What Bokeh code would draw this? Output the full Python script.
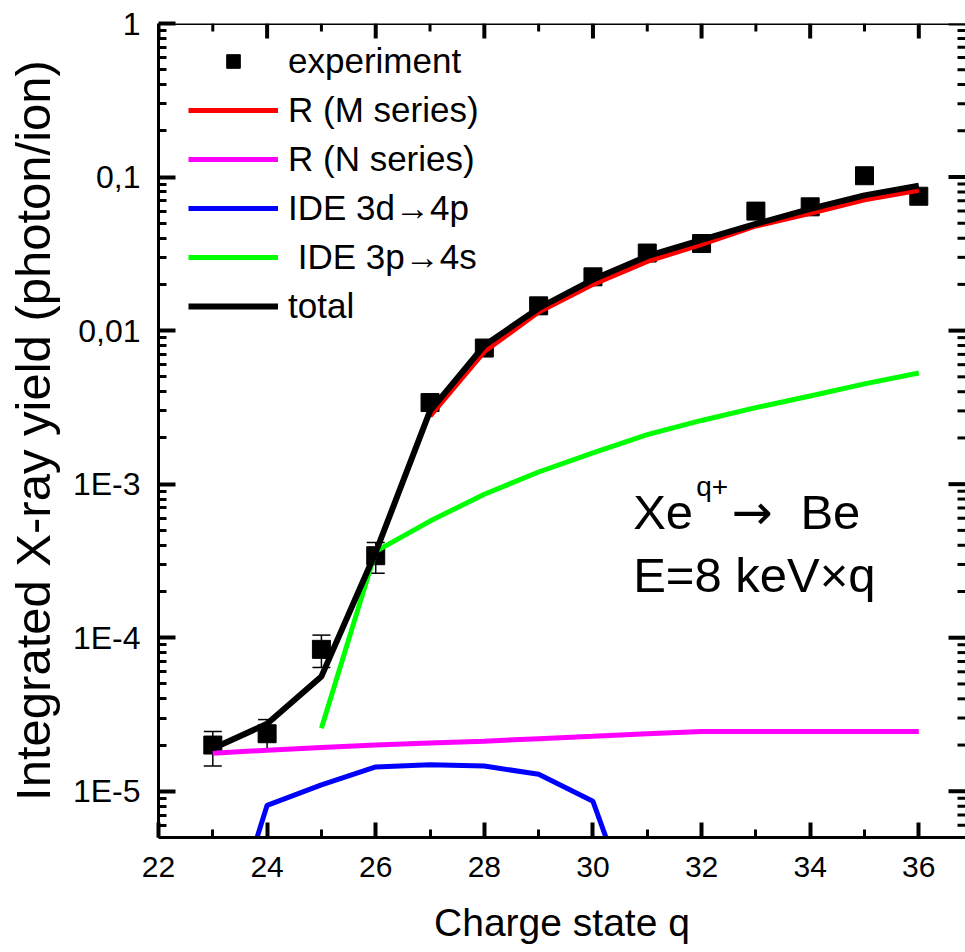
import math
from bokeh.plotting import figure
from bokeh.models import (Range1d, ColumnDataSource, Whisker, TeeHead, Legend, LegendItem,
                          FixedTicker, CustomJSTickFormatter, Label, Span)
from bokeh.embed import file_html
from bokeh.resources import INLINE

# ---------------- data ----------------
q_exp = [23, 24, 25, 26, 27, 28, 29, 30, 31, 32, 33, 34, 35, 36]
y_exp = [2.0e-5, 2.37e-5, 8.4e-5, 3.42e-4, 3.4e-3, 7.7e-3, 1.45e-2, 2.24e-2,
         3.2e-2, 3.69e-2, 6.0e-2, 6.4e-2, 0.102, 0.075]

q_err = [23, 24, 25, 26]
err_lo = [1.46e-5, 1.85e-5, 6.4e-5, 2.63e-4]
err_hi = [2.45e-5, 2.93e-5, 1.04e-4, 4.17e-4]

q_m = [27, 28, 29, 30, 31, 32, 33, 34, 35, 36]
y_m = [2.77e-3, 7.3e-3, 1.32e-2, 2.0e-2, 2.82e-2, 3.65e-2, 4.8e-2, 5.8e-2, 7.1e-2, 8.2e-2]

q_n = [23, 24, 25, 26, 27, 28, 29, 30, 31, 32, 33, 34, 35, 36]
y_n = [1.77e-5, 1.85e-5, 1.93e-5, 2.0e-5, 2.06e-5, 2.12e-5, 2.2e-5, 2.28e-5,
       2.37e-5, 2.45e-5, 2.45e-5, 2.45e-5, 2.45e-5, 2.45e-5]

q_3d = [23, 24, 25, 26, 27, 28, 29, 30, 31]
y_3d = [6e-7, 8.1e-6, 1.1e-5, 1.44e-5, 1.49e-5, 1.46e-5, 1.29e-5, 8.6e-6, 9e-7]

q_3p = [25, 26, 27, 28, 29, 30, 31, 32, 33, 34, 35, 36]
y_3p = [2.57e-5, 3.65e-4, 5.75e-4, 8.6e-4, 1.2e-3, 1.6e-3, 2.1e-3, 2.6e-3,
        3.15e-3, 3.75e-3, 4.5e-3, 5.3e-3]

q_tot = [23, 24, 25, 26, 27, 28, 29, 30, 31, 32, 33, 34, 35, 36]
y_tot = [1.9e-5, 2.75e-5, 5.6e-5, 3.6e-4, 3.0e-3, 8.0e-3, 1.4e-2, 2.15e-2,
         3.05e-2, 3.9e-2, 4.95e-2, 6.2e-2, 7.6e-2, 8.8e-2]

y_tick_exps = [-5, -4, -3, -2, -1, 0]
y_tick_labels = ["1E-5", "1E-4", "1E-3", "0,01", "0,1", "1"]
x_ticks = [22, 24, 26, 28, 30, 32, 34, 36]

labels = ["experiment", "R (M series)", "R (N series)", "IDE 3d\u21924p",
          " IDE 3p\u21924s", "total"]

FONT = "Liberation Sans"
X0, X1 = 22, 36.86
Y0, Y1 = 5e-6, 1.0
W, H = 965, 952
BL, BR, BT, BB = 158, 0, 23, 115

# ---------------- figure ----------------
p = figure(width=W, height=H, x_range=Range1d(X0, X1),
           y_range=Range1d(Y0, Y1), y_axis_type="log",
           output_backend="svg", toolbar_location=None,
           min_border_left=BL, min_border_right=BR, min_border_top=BT,
           min_border_bottom=BB)
p.grid.visible = False
p.outline_line_color = None
p.background_fill_color = "white"
p.border_fill_color = "white"

# experimental points
src_exp = ColumnDataSource(dict(q=q_exp, y=y_exp))
r_exp = p.scatter("q", "y", source=src_exp, marker="square", size=18,
                  fill_color="black", line_color="black")
src_err = ColumnDataSource(dict(q=q_err, lo=err_lo, hi=err_hi))
wh = Whisker(source=src_err, base="q", lower="lo", upper="hi", dimension="height",
             line_width=1.5, line_color="black",
             upper_head=TeeHead(size=18, line_width=1.5, line_color="black"),
             lower_head=TeeHead(size=18, line_width=1.5, line_color="black"))
p.add_layout(wh)

LW = 5
r_m = p.line(q_m, y_m, line_color="#ff0000", line_width=LW)
r_n = p.line(q_n, y_n, line_color="#ff00ff", line_width=LW)
r_3d = p.line(q_3d, y_3d, line_color="#0000ff", line_width=LW)
r_3p = p.line(q_3p, y_3p, line_color="#00ff00", line_width=LW)
r_tot = p.line(q_tot, y_tot, line_color="black", line_width=LW + 1)

# ---------------- axes ----------------
y_major = [10.0 ** e for e in y_tick_exps]
y_minor = [m * 10.0 ** e for e in range(-6, 1) for m in range(2, 10)
           if Y0 < m * 10.0 ** e < Y1]
x_minor = [t + 1 for t in x_ticks if t + 1 < X1]
y_ticker = FixedTicker(ticks=y_major, minor_ticks=y_minor)
x_ticker = FixedTicker(ticks=x_ticks, minor_ticks=x_minor)

fmt = CustomJSTickFormatter(args=dict(exps=y_tick_exps, labs=y_tick_labels), code="""
const e = Math.round(Math.log10(tick));
const i = exps.indexOf(e);
return i >= 0 ? labs[i] : "";
""")

MAJ_W, MIN_W = 4, 3
MAJ_X, MAJ_Y, MIN_L = 15, 17, 8

def style(ax, maj_len):
    ax.axis_line_width = 3
    ax.axis_line_color = "black"
    ax.major_tick_line_width = MAJ_W
    ax.minor_tick_line_width = MIN_W
    ax.major_tick_line_color = "black"
    ax.minor_tick_line_color = "black"
    ax.major_tick_out = 0
    ax.minor_tick_out = 0
    ax.major_tick_in = maj_len
    ax.minor_tick_in = MIN_L
    ax.major_label_text_font = FONT
    ax.major_label_text_color = "black"
    ax.axis_label_text_font = FONT
    ax.axis_label_text_font_style = "normal"
    ax.axis_label_text_color = "black"

xa = p.xaxis[0]
xa.ticker = x_ticker
style(xa, MAJ_X)
xa.major_label_text_font_size = "30px"
xa.major_label_standoff = 19
xa.axis_label = "Charge state q"
xa.axis_label_text_font_size = "39px"
xa.axis_label_standoff = 21

ya = p.yaxis[0]
ya.ticker = y_ticker
ya.formatter = fmt
style(ya, MAJ_Y)
ya.major_label_text_font_size = "32px"
ya.major_label_standoff = 18
ya.axis_label = "Integrated X-ray yield (photon/ion)"
ya.axis_label_text_font_size = "49px"
ya.axis_label_standoff = 10

# mirrored inward ticks on the top and right sides of the frame
px_per_x = (W - BL - BR) / (X1 - X0)
px_per_dec = (H - BT - BB) / math.log10(Y1 / Y0)
dxM, dxm = MAJ_Y / px_per_x, MIN_L / px_per_x
fyM, fym = 10 ** (MAJ_X / px_per_dec), 10 ** (MIN_L / px_per_dec)

p.segment(x0=x_ticks, y0=[Y1] * len(x_ticks), x1=x_ticks, y1=[Y1 / fyM] * len(x_ticks),
          line_color="black", line_width=MAJ_W)
p.segment(x0=x_minor, y0=[Y1] * len(x_minor), x1=x_minor, y1=[Y1 / fym] * len(x_minor),
          line_color="black", line_width=MIN_W)
p.segment(x0=[X1] * len(y_major), y0=y_major, x1=[X1 - dxM] * len(y_major), y1=y_major,
          line_color="black", line_width=MAJ_W)
p.segment(x0=[X1] * len(y_minor), y0=y_minor, x1=[X1 - dxm] * len(y_minor), y1=y_minor,
          line_color="black", line_width=MIN_W)
# top frame line
p.add_layout(Span(location=Y1, dimension="width", line_color="black", line_width=3))

# ---------------- legend ----------------
items = [LegendItem(label=labels[0], renderers=[r_exp]),
         LegendItem(label=labels[1], renderers=[r_m]),
         LegendItem(label=labels[2], renderers=[r_n]),
         LegendItem(label=labels[3], renderers=[r_3d]),
         LegendItem(label=labels[4], renderers=[r_3p]),
         LegendItem(label=labels[5], renderers=[r_tot])]
leg = Legend(items=items, location=(30, 511), glyph_width=90, glyph_height=34,
             label_height=34, label_standoff=10, spacing=9, padding=0, margin=0,
             label_text_font=FONT, label_text_font_size="35px",
             label_text_color="black", border_line_color=None,
             background_fill_alpha=0)
p.add_layout(leg)

# ---------------- annotation ----------------
ann_x = 30.74
common = dict(text_font=FONT, text_color="black", text_baseline="alphabetic")
p.add_layout(Label(x=ann_x, y=6.54e-4, text="Xe", text_font_size="49px", **common))
p.add_layout(Label(x=31.9, y=9.6e-4, text="q+", text_font_size="28px", **common))
p.add_layout(Label(x=32.55, y=6.54e-4, text="\u2192", text_font_size="49px",
                   text_font="DejaVu Sans", text_color="black", text_baseline="alphabetic"))
p.add_layout(Label(x=33.82, y=6.54e-4, text="Be", text_font_size="49px", **common))
p.add_layout(Label(x=ann_x, y=2.58e-4, text="E=8 keV\u00d7q", text_font_size="49px", **common))

open("out.html", "w").write(file_html(p, INLINE))
